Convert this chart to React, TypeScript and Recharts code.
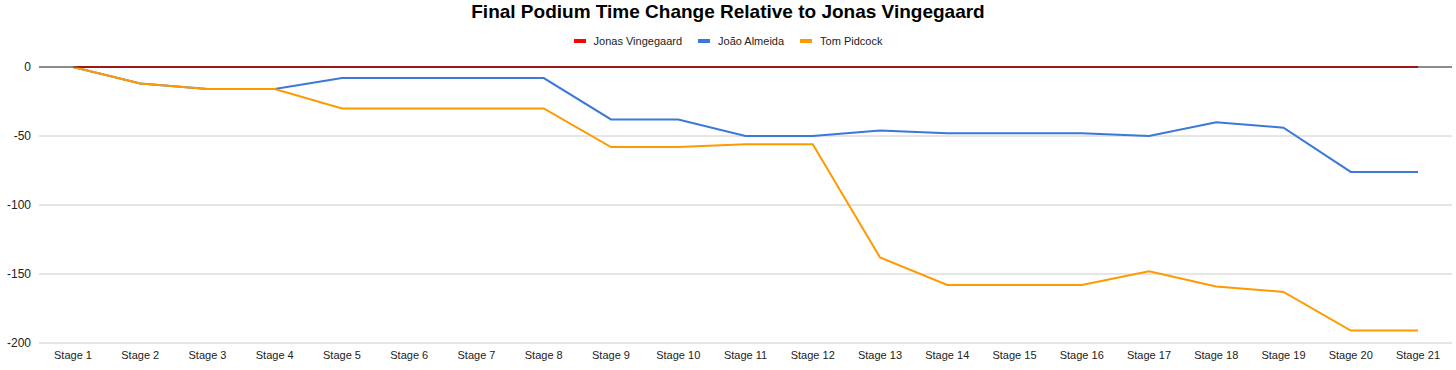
import React from 'react';
import { LineChart, Line, XAxis, YAxis, CartesianGrid, ReferenceLine } from 'recharts';

const stages = ['Stage 1','Stage 2','Stage 3','Stage 4','Stage 5','Stage 6','Stage 7','Stage 8','Stage 9','Stage 10','Stage 11','Stage 12','Stage 13','Stage 14','Stage 15','Stage 16','Stage 17','Stage 18','Stage 19','Stage 20','Stage 21'];
const vingegaard = [0,0,0,0,0,0,0,0,0,0,0,0,0,0,0,0,0,0,0,0,0];
const almeida = [0,-12,-16,-16,-8,-8,-8,-8,-38,-38,-50,-50,-46,-48,-48,-48,-50,-40,-44,-76,-76];
const pidcock = [0,-12,-16,-16,-30,-30,-30,-30,-58,-58,-56,-56,-138,-158,-158,-158,-148,-159,-163,-191,-191];
const yTicks = [0,-50,-100,-150,-200];

const seriesNames = ['Jonas Vingegaard','João Almeida','Tom Pidcock'];
const seriesColors = ['#ff0000','#3c78d8','#ff9900'];

const data = stages.map((s, i) => ({
  stage: s,
  v: vingegaard[i],
  a: almeida[i],
  p: pidcock[i],
}));

const FONT = '"Liberation Sans", Arial, sans-serif';

export default function App() {
  return (
    <div style={{ position: 'fixed', top: 0, left: 0, width: 1456, height: 370, background: '#fff', fontFamily: FONT, overflow: 'hidden' }}>
      <div style={{ position: 'absolute', top: 0, left: 0 }}>
        <LineChart width={1456} height={370} data={data} margin={{ top: 67, right: 4, left: 0, bottom: 0 }}>
          <CartesianGrid horizontal vertical={false} stroke="#cccccc" />
          <XAxis dataKey="stage" height={27} tickLine={false} axisLine={false} interval={0} padding={{ left: 34, right: 34 }} tick={{ fontSize: 11, fill: '#222', fontFamily: FONT }} />
          <YAxis width={39} domain={[-200, 0]} ticks={yTicks} tickLine={false} axisLine={false} tick={{ fontSize: 12, fill: '#222', fontFamily: FONT }} />
          <Line dataKey="v" name={seriesNames[0]} stroke={seriesColors[0]} strokeWidth={2} dot={false} isAnimationActive={false} />
          <Line dataKey="a" name={seriesNames[1]} stroke={seriesColors[1]} strokeWidth={2} dot={false} isAnimationActive={false} />
          <Line dataKey="p" name={seriesNames[2]} stroke={seriesColors[2]} strokeWidth={2} dot={false} isAnimationActive={false} />
          <ReferenceLine y={0} stroke="#333" strokeWidth={1} />
        </LineChart>
      </div>
      <div style={{ position: 'absolute', top: 1, left: 0, width: 1456, textAlign: 'center', fontWeight: 'bold', fontSize: 19, lineHeight: '22px', color: '#000', zIndex: 2 }}>
        Final Podium Time Change Relative to Jonas Vingegaard
      </div>
      <div style={{ position: 'absolute', top: 34, left: 0, width: 1456, display: 'flex', justifyContent: 'center', fontSize: 11, lineHeight: '14px', color: '#222', zIndex: 2 }}>
        {seriesNames.map((n, i) => (
          <div key={n} style={{ display: 'flex', alignItems: 'center', marginLeft: i === 0 ? 0 : 16 }}>
            <span style={{ display: 'inline-block', width: 12, height: 4, background: seriesColors[i], marginRight: 8 }} />
            <span>{n}</span>
          </div>
        ))}
      </div>
    </div>
  );
}
